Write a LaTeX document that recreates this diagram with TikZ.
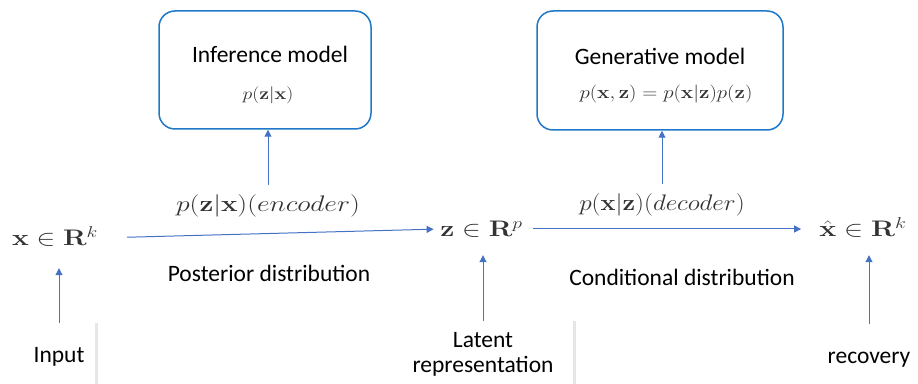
\RequirePackage{fix-cm}
\documentclass[tikz,border=0pt]{standalone}
\usepackage[no-math]{fontspec}
\setmainfont{Carlito}
\usepackage{amsmath, graphicx, xcolor}
\usetikzlibrary{arrows.meta, shadows}
\newcommand{\pxunit}{1pt}
\newcommand{\wide}[2]{\scalebox{#1}[1]{#2}}
\definecolor{boxblue}{RGB}{32,120,200}
\definecolor{linkblue}{RGB}{68,114,196}

\begin{document}
\begin{tikzpicture}
\useasboundingbox (0,0) rectangle (918*\pxunit,383*\pxunit);
\tikzstyle{model}=[draw=boxblue,
			line width=1.5pt,
			rounded corners=16*\pxunit,
			fill=white,
			inner sep=0pt
			]
\tikzstyle{caption}=[font=\fontsize{23.5}{26}\selectfont,
			anchor=base,
			inner sep=0pt
			]
\tikzstyle{vec}=[font=\fontsize{22.5}{26}\selectfont,
			text=black!80,
			anchor=base,
			inner sep=0pt,
			text height=16pt,
			text depth=0pt
			]
\tikzstyle{card}=[fill=white,
			inner sep=0pt,
			align=center,
			minimum height=67*\pxunit,
			font=\fontsize{23.5}{25}\selectfont,
			drop shadow={shadow xshift=2.5pt, shadow yshift=0pt, opacity=0.2}
			]
\tikzstyle{link}=[draw=linkblue,
			line width=1pt,
			-{Triangle[length=7pt,width=7pt]}
			]


\node[model, minimum width=212*\pxunit, minimum height=118*\pxunit] (infbox) at (265*\pxunit,313*\pxunit) {};


\node[model, minimum width=246*\pxunit, minimum height=119*\pxunit] (genbox) at (660*\pxunit,312.5*\pxunit) {};


\node[caption] (inftitle) at (270*\pxunit,320*\pxunit) {Inference model};


\node[vec, font=\fontsize{17}{20}\selectfont] (infeq) at (268*\pxunit,283*\pxunit) {\wide{1.16}{$p(\mathbf{z}|\mathbf{x})$}};


\node[caption] (gentitle) at (660*\pxunit,318*\pxunit) {Generative model};


\node[vec, font=\fontsize{18}{20}\selectfont] (geneq) at (666*\pxunit,284*\pxunit) {\wide{1.16}{$p(\mathbf{x},\mathbf{z})=p(\mathbf{x}|\mathbf{z})p(\mathbf{z})$}};


\node[vec] (enclabel) at (268*\pxunit,171*\pxunit) {\wide{1.23}{$p(\mathbf{z}|\mathbf{x})(encoder)$}};


\node[vec] (declabel) at (662*\pxunit,172*\pxunit) {\wide{1.12}{$p(\mathbf{x}|\mathbf{z})(decoder)$}};


\node[vec] (xin) at (55*\pxunit,137*\pxunit) {\wide{1.25}{$\mathbf{x}\in\mathbf{R}^k$}};


\node[vec] (zin) at (481.5*\pxunit,146*\pxunit) {\wide{1.25}{$\mathbf{z}\in\mathbf{R}^p$}};


\node[vec] (xhat) at (863*\pxunit,146*\pxunit) {\wide{1.27}{$\hat{\mathbf{x}}\in\mathbf{R}^k$}};


\node[caption] (posterior) at (269*\pxunit,101*\pxunit) {Posterior distribution};


\node[caption] (conditional) at (682*\pxunit,97*\pxunit) {Conditional distribution};


\node[card, minimum width=72*\pxunit, text height=16pt, text depth=5pt] (input) at (59*\pxunit,26.5*\pxunit) {Input};


\node[card, minimum width=180*\pxunit] (latent) at (483*\pxunit,28.5*\pxunit) {Latent\\representation};


\node[card, minimum width=112*\pxunit, text height=16pt, text depth=5pt] (recovery) at (869*\pxunit,25.5*\pxunit) {recovery};


\draw[link, shorten <=29pt, shorten >=6.5pt] (xin.east) -- (zin.west);


\draw[link, shorten <=10pt, shorten >=18pt] (zin.east) -- (xhat.west);


\draw[link, shorten >=22pt] (input.north) -- (input.north |- xin.south);


\draw[link, shorten >=18pt] (latent.north) -- (latent.north |- zin.south);


\draw[link, shorten >=18pt] (recovery.north) -- (recovery.north |- xhat.south);


\draw[link, shorten <=11pt] (enclabel.north) -- (enclabel.north |- infbox.south);


\draw[link, shorten <=11pt] (declabel.north) -- (declabel.north |- genbox.south);

\end{tikzpicture}
\end{document}
